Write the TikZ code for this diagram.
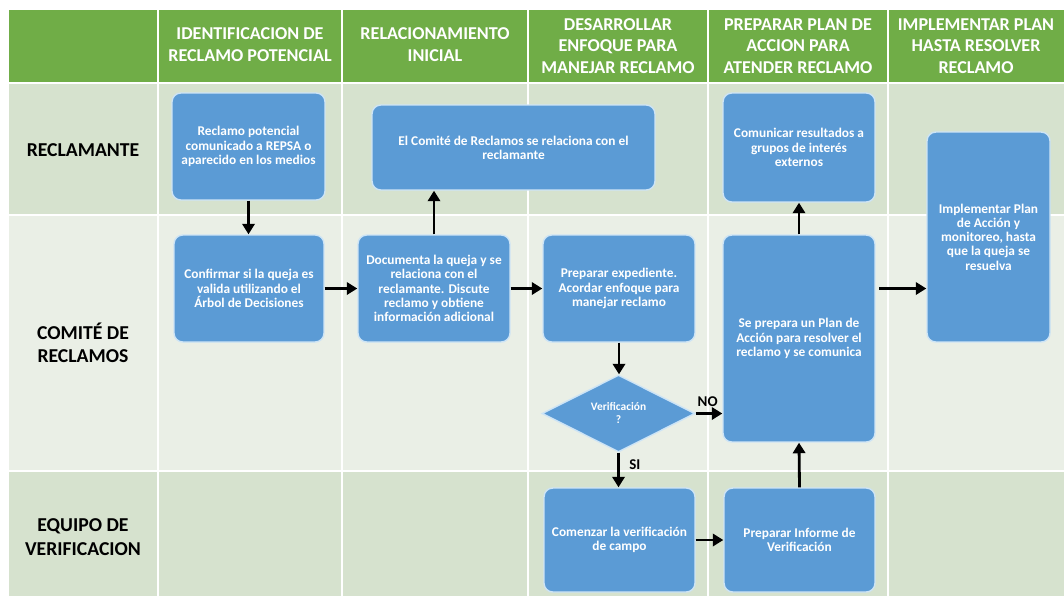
\documentclass[tikz,border=0pt]{standalone}
\usepackage{fontspec}
\setmainfont{Carlito}
\usetikzlibrary{shapes.geometric,arrows.meta}
\definecolor{cabecera}{RGB}{112,173,71}
\definecolor{filaosc}{RGB}{214,226,206}
\definecolor{filaclr}{RGB}{234,239,230}
\definecolor{caja}{RGB}{91,155,213}
\definecolor{bordecaja}{RGB}{205,228,246}
\begin{document}
\begin{tikzpicture}[x=0.02cm,y=-0.02cm,
  cabtxt/.style={text=white, font=\bfseries\fontsize{10.3}{12.4}\selectfont, align=center},
  filatxt/.style={text=black, font=\bfseries\fontsize{11.2}{13.4}\selectfont, align=center},
  paso/.style={draw=bordecaja, line width=0.8pt, fill=caja, rounded corners=5pt,
    text=white, font=\bfseries\fontsize{7.6}{8.1}\selectfont, align=center, inner sep=1pt},
  decision/.style={diamond, draw=bordecaja, line width=0.8pt, fill=caja, inner sep=0pt,
    text=white, font=\bfseries\fontsize{6.5}{7.4}\selectfont, align=center},
  flecha/.style={-{Triangle[length=6pt,width=7pt]}, line width=1.6pt},
  etiq/.style={font=\bfseries\fontsize{8.5}{9}\selectfont}]
  \useasboundingbox (0,0) rectangle (1064,596);
  % celdas de la tabla
  \foreach \xa/\xb in {8/158,158/342,342/528,528/708,708/888,888/1066} {
    \fill[cabecera] (\xa+1,10) rectangle (\xb-1,82);
    \fill[filaosc] (\xa+1,84) rectangle (\xb-1,214);
    \fill[filaclr] (\xa+1,216) rectangle (\xb-1,470);
    \fill[filaosc] (\xa+1,472) rectangle (\xb-1,596);
  }
  % cabecera
  \node[cabtxt] (fase1) at (250,45) {IDENTIFICACION DE\\RECLAMO POTENCIAL};
  \node[cabtxt] (fase2) at (435,45) {RELACIONAMIENTO\\INICIAL};
  \node[cabtxt] (fase3) at (618,46) {DESARROLLAR\\ENFOQUE PARA\\MANEJAR RECLAMO};
  \node[cabtxt] (fase4) at (798,46) {PREPARAR PLAN DE\\ACCION PARA\\ATENDER RECLAMO};
  \node[cabtxt] (fase5) at (976,46) {IMPLEMENTAR PLAN\\HASTA RESOLVER\\RECLAMO};
  % filas
  \node[filatxt] (fila1) at (83,150) {RECLAMANTE};
  \node[filatxt] (fila2) at (83,343) {COMITÉ DE\\RECLAMOS};
  \node[filatxt] (fila3) at (83,537) {EQUIPO DE\\VERIFICACION};
  % pasos
  \node[paso, minimum width=3.06cm, minimum height=2.14cm] (reclamo) at (248.5,146.5)
    {Reclamo potencial\\comunicado a REPSA o\\aparecido en los medios};
  \node[paso, minimum width=5.66cm, minimum height=1.7cm] (relacion) at (513.5,147.5)
    {El Comité de Reclamos se relaciona con el\\reclamante};
  \node[paso, minimum width=3.04cm, minimum height=2.18cm] (comunicar) at (799,147.5)
    {Comunicar resultados a\\grupos de interés\\externos};
  \node[paso, minimum width=2.46cm, minimum height=4.2cm] (implementar) at (988.5,237)
    {Implementar Plan\\de Acción y\\monitoreo, hasta\\que la queja se\\resuelva};
  \node[paso, minimum width=3.04cm, minimum height=4.14cm] (plan) at (799,338.5)
    {Se prepara un Plan de\\Acción para resolver el\\reclamo y se comunica};
  \node[paso, minimum width=3.0cm, minimum height=2.14cm] (confirmar) at (249,288.5)
    {Confirmar si la queja es\\valida utilizando el\\Árbol de Decisiones};
  \node[paso, minimum width=3.04cm, minimum height=2.14cm] (documenta) at (434,288.5)
    {Documenta la queja y se\\relaciona con el\\reclamante. Discute\\reclamo y obtiene\\información adicional};
  \node[paso, minimum width=3.04cm, minimum height=2.14cm] (expediente) at (619,288.5)
    {Preparar expediente.\\Acordar enfoque para\\manejar reclamo};
  \node[decision, minimum width=3.06cm, minimum height=1.54cm] (verif) at (618.5,413.5)
    {Verificación\\?};
  \node[paso, minimum width=3.02cm, minimum height=2.08cm] (campo) at (619.5,540)
    {Comenzar la verificación\\de campo};
  \node[paso, minimum width=3.02cm, minimum height=2.08cm] (informe) at (799.5,540)
    {Preparar Informe de\\Verificación};
  % flechas
  \draw[flecha] (reclamo.south) -- (reclamo.south |- confirmar.north);
  \draw[flecha] (documenta.north) -- (documenta.north |- relacion.south);
  \draw[flecha] (confirmar.east) -- (documenta.west);
  \draw[flecha] (documenta.east) -- (expediente.west);
  \draw[flecha] (expediente.south) -- (expediente.south |- verif.north);
  \draw[flecha] (verif.east) -- (verif.east -| plan.west)
    node[etiq, pos=0.45, above] (no) {NO};
  \draw[flecha] (verif.south) -- (verif.south |- campo.north)
    node[etiq, pos=0.35, right=2pt] (si) {SI};
  \draw[flecha] (campo.east) -- (informe.west);
  \draw[flecha] (informe.north) -- (plan.south);
  \draw[flecha] (plan.north) -- (comunicar.south);
  \draw[flecha, shorten <=2pt] (plan.east |- confirmar.east) -- (implementar.west |- confirmar.east);
\end{tikzpicture}
\end{document}
